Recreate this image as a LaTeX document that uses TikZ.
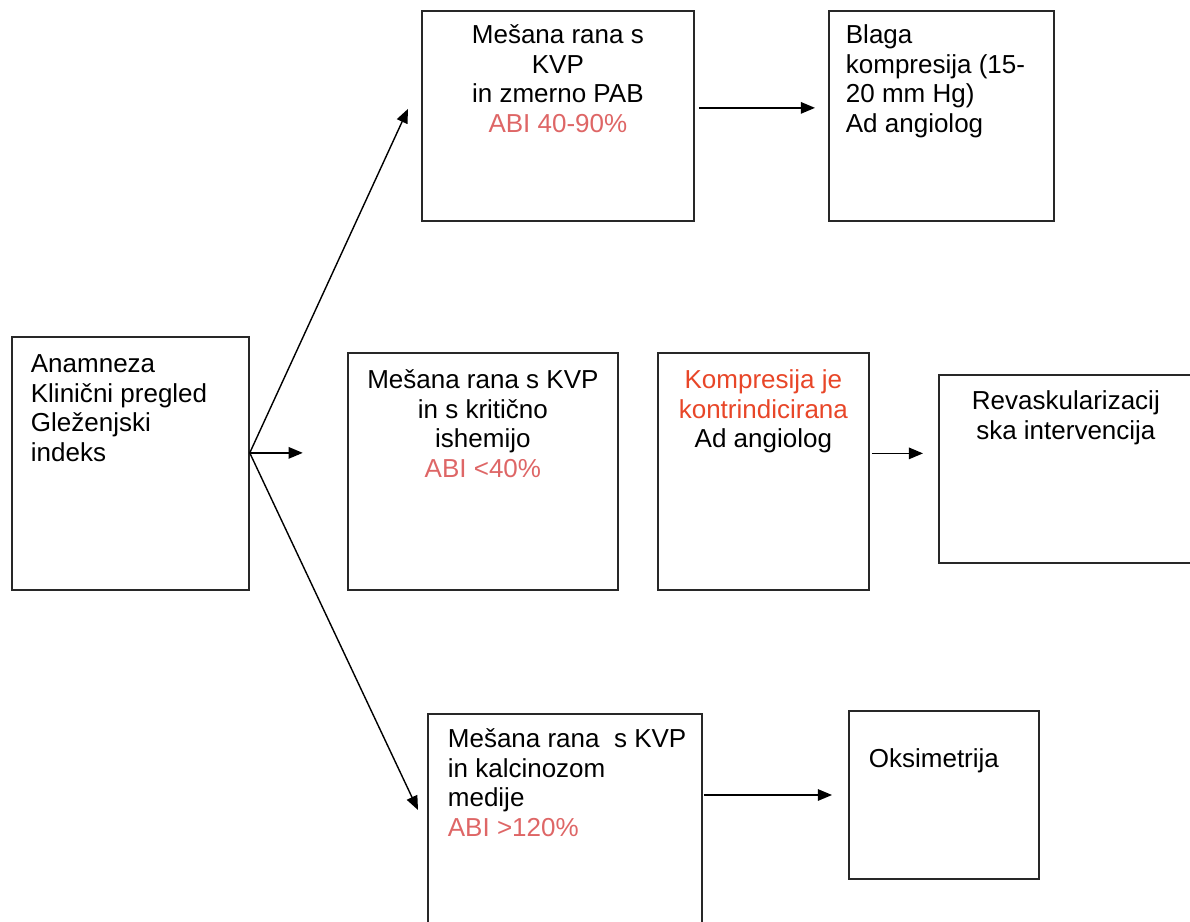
\documentclass[tikz,border=0pt]{standalone}
\usepackage{fontspec}
\setmainfont{Liberation Sans}
\usetikzlibrary{arrows.meta,calc}
\newdimen\px \px=0.02cm
\definecolor{abired}{RGB}{222,102,102}
\definecolor{kored}{RGB}{232,70,40}
\definecolor{boxline}{RGB}{40,40,40}
\newcommand\firstline[1]{\rule{0pt}{#1\px}}
\tikzset{
  box/.style={draw=boxline, line width=1pt, inner sep=0pt, anchor=north west},
  arr/.style={draw=black, line width=0.8pt, -{Triangle[length=8pt,width=6.5pt]}},
  every node/.style={font=\fontsize{14.8pt}{16.8pt}\selectfont}
}
\begin{document}
\begin{tikzpicture}[x=0.02cm,y=-0.02cm]
\useasboundingbox (0,0) rectangle (1190,922);
\clip (0,0) rectangle (1190,922);
% boxes
\node[box] (A) at (11,336) {\parbox[t][253\px][t]{237\px}{\leftskip=19\px\firstline{36}Anamneza\\Klinični pregled\\Gleženjski\\indeks}};
\node[box] (B) at (421,10) {\parbox[t][210\px][t]{272\px}{\centering\firstline{33}Mešana rana s\\KVP\\in zmerno PAB\\\textcolor{abired}{ABI 40-90\%}}};
\node[box] (C) at (828,10) {\parbox[t][210\px][t]{225\px}{\leftskip=17\px\firstline{33}Blaga\\kompresija (15-\\20 mm Hg)\\Ad angiolog}};
\node[box] (D) at (347,352) {\parbox[t][237\px][t]{270\px}{\centering\firstline{36}Mešana rana s KVP\\in s kritično\\ishemijo\\\textcolor{abired}{ABI <40\%}}};
\node[box] (E) at (657,352) {\parbox[t][237\px][t]{211\px}{\centering\firstline{36}\textcolor{kored}{Kompresija je}\\\textcolor{kored}{kontrindicirana}\\Ad angiolog}};
\node[box] (F) at (938,374) {\parbox[t][188\px][t]{254\px}{\centering\firstline{35}Revaskularizacij\\ska intervencija}};
\node[box] (G) at (427,713) {\parbox[t][230\px][t]{274\px}{\leftskip=20\px\firstline{34}Mešana rana~ s KVP\\in kalcinozom\\medije\\\textcolor{abired}{ABI >120\%}}};
\node[box] (H) at (848,710) {\parbox[t][168\px][t]{190\px}{\leftskip=20\px\firstline{57}Oksimetrija}};
% connectors
\coordinate (a0) at ($(A.east)+(0,-10.5)$);
\coordinate (mid) at ($(a0)+(53,0)$);
\draw[arr] (a0) -- ($(B.west)+(-13,-7)$);
\draw[arr] (a0) -- (mid);
\draw[arr] (a0) -- ($(G.north west)+(-9,97)$);
\draw[arr] ($(B.east)+(4,-8)$) -- ($(C.west)+(-13,-8)$);
\coordinate (e0) at ($(E.east)+(2,-18)$);
\draw[arr, shorten >=0.3cm] (e0) -- (F.west |- e0);
\coordinate (g0) at ($(G.north east)+(1,82)$);
\draw[arr, shorten >=0.32cm] (g0) -- (H.west |- g0);
\end{tikzpicture}
\end{document}
